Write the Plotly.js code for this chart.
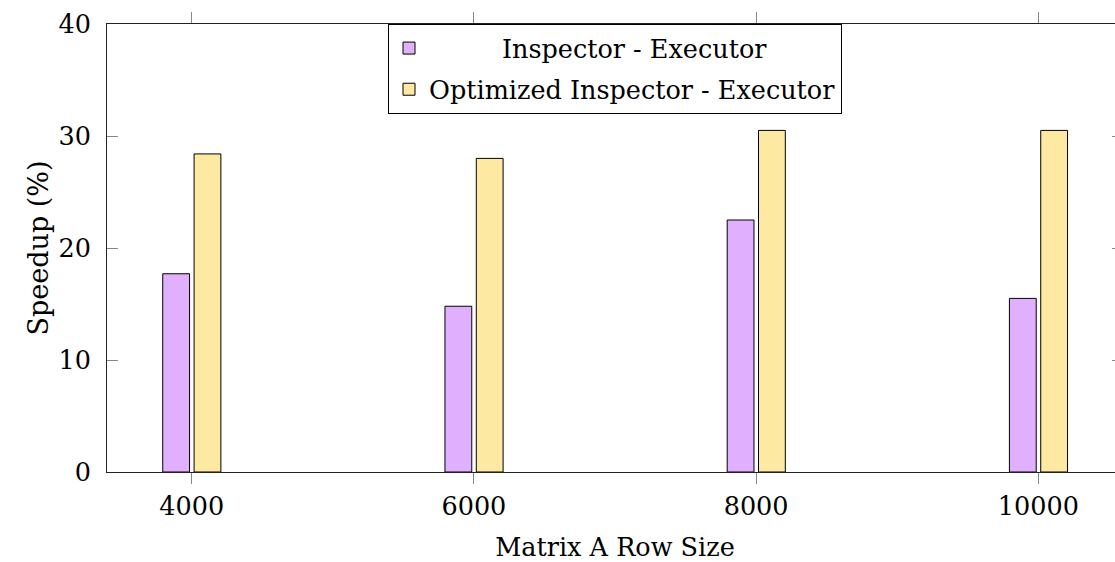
<!DOCTYPE html>
<html>
<head>
<meta charset="utf-8">
<script src="https://cdn.plot.ly/plotly-3.0.1.min.js"></script>
<style>html,body{margin:0;padding:0;overflow:hidden;background:#fff;}</style>
</head>
<body>
<div id="chart"></div>
<script>
const rowSizes = [4000, 6000, 8000, 10000];
const inspectorExecutor = [17.7, 14.8, 22.5, 15.5];
const optimizedInspectorExecutor = [28.4, 28.0, 30.5, 30.5];
const seriesNames = ["Inspector - Executor", "Optimized Inspector - Executor"];
const tickLabels = ["4000", "6000", "8000", "10000"];

const FONT = "DejaVu Serif";
const FS = 25.5;
const PAD = "\u00a0".repeat(9);

const traces = [
  {
    type: "bar",
    x: rowSizes,
    y: inspectorExecutor,
    name: PAD + seriesNames[0],
    width: 190,
    offset: -205,
    marker: {color: "#E0B0FF", line: {color: "#000", width: 1}},
    legendgroup: "a"
  },
  {
    type: "bar",
    x: rowSizes,
    y: optimizedInspectorExecutor,
    name: seriesNames[1],
    width: 190,
    offset: 17,
    marker: {color: "#FDE9A1", line: {color: "#000", width: 1}},
    legendgroup: "b"
  }
];

const layout = {
  width: 1123,
  height: 562,
  margin: {l: 107, r: 0, t: 24, b: 90},
  paper_bgcolor: "#fff",
  plot_bgcolor: "#fff",
  font: {family: FONT, size: FS, color: "#000"},
  barmode: "overlay",
  showlegend: true,
  legend: {
    x: 0.5, xanchor: "center", y: 1, yanchor: "top",
    bordercolor: "#000", borderwidth: 1, bgcolor: "#fff",
    font: {family: FONT, size: FS, color: "#000"},
    traceorder: "grouped", tracegroupgap: 5
  },
  xaxis: {
    range: [3400, 10600],
    tickvals: rowSizes,
    ticktext: tickLabels,
    ticks: "outside", ticklen: 11, tickcolor: "#888", tickwidth: 1,
    showline: true, linecolor: "#222", linewidth: 1, mirror: "ticks",
    showgrid: false, zeroline: false,
    title: {text: "Matrix A Row Size", font: {family: FONT, size: FS}, standoff: 18},
    tickfont: {family: FONT, size: FS}
  },
  yaxis: {
    range: [0, 40],
    tickvals: [0, 10, 20, 30, 40],
    ticks: "inside", ticklen: 11, tickcolor: "#888", tickwidth: 1,
    showline: true, linecolor: "#222", linewidth: 1, mirror: "ticks",
    showgrid: false, zeroline: false,
    ticklabelstandoff: 10,
    title: {text: "Speedup (%)", font: {family: FONT, size: 27}, standoff: 1},
    tickfont: {family: FONT, size: FS}
  }
};

Plotly.newPlot("chart", traces, layout, {displayModeBar: false, staticPlot: true});
</script>
</body>
</html>
